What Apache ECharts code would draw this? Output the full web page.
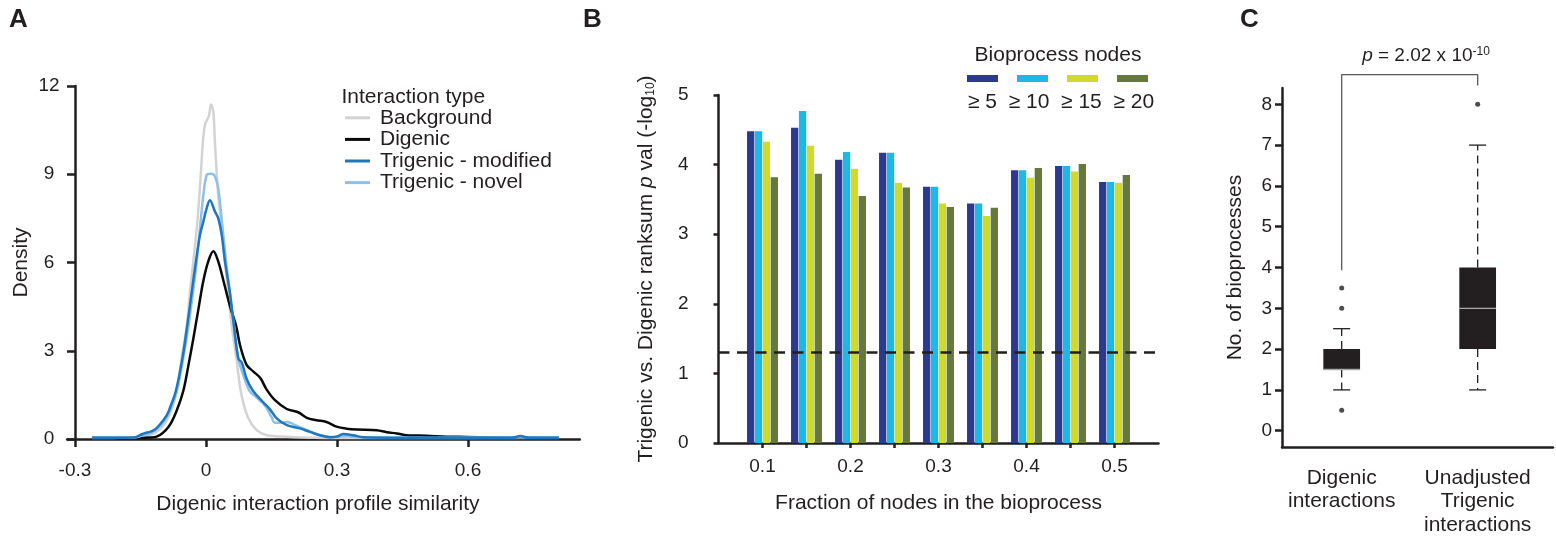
<!DOCTYPE html>
<html><head><meta charset="utf-8">
<script src="https://cdn.jsdelivr.net/npm/echarts@6/dist/echarts.min.js"></script>
<style>html,body{margin:0;padding:0;background:#fff}#c{width:1556px;height:541px}</style>
</head><body><div id="c"></div>
<script>
// ---------- Panel A : density curves ----------
const densityTicks = [0, 3, 6, 9, 12];
const simTicks = [-0.3, 0, 0.3, 0.6];
const seriesNamesA = ['Background', 'Digenic', 'Trigenic - modified', 'Trigenic - novel'];
const bgX = [-0.261,-0.20,-0.15,-0.113,-0.086,-0.067,-0.056,-0.044,-0.037,-0.029,-0.021,-0.015,-0.010,-0.006,-0.002,0.002,0.007,0.0115,0.0168,0.0206,0.028,0.036,0.0435,0.051,0.059,0.070,0.080,0.096,0.116,0.139,0.185,0.25,0.35,0.45,0.808];
const bgY = [0.03,0.04,0.08,0.24,0.74,1.63,2.74,3.85,4.95,6.04,7.17,8.29,9.44,10.29,10.71,10.83,11.0,11.37,11.13,10.05,8.29,7.17,6.04,4.95,3.85,2.70,1.60,0.74,0.30,0.13,0.08,0.04,0.03,0.03,0.03];
const digX = [-0.261,-0.17,-0.13,-0.113,-0.086,-0.067,-0.052,-0.040,-0.029,-0.0176,-0.006,0.0053,0.0168,0.028,0.040,0.055,0.069,0.078,0.093,0.108,0.124,0.139,0.158,0.185,0.211,0.231,0.253,0.276,0.299,0.322,0.345,0.391,0.414,0.437,0.46,0.505,0.551,0.597,0.70,0.808];
const digY = [0.03,0.03,0.05,0.08,0.41,0.97,1.63,2.52,3.41,4.39,5.38,6.04,6.38,6.04,5.38,4.51,3.85,3.19,2.52,2.30,2.08,1.68,1.32,1.02,0.91,0.72,0.64,0.58,0.42,0.35,0.32,0.30,0.23,0.19,0.13,0.11,0.08,0.07,0.04,0.03];
const modX = [-0.261,-0.165,-0.15,-0.14,-0.128,-0.117,-0.105,-0.09,-0.082,-0.069,-0.054,-0.043,-0.033,-0.025,-0.0137,-0.006,0.0015,0.009,0.0206,0.028,0.036,0.0435,0.055,0.064,0.074,0.082,0.093,0.108,0.131,0.147,0.162,0.185,0.215,0.238,0.261,0.284,0.300,0.314,0.337,0.36,0.50,0.70,0.72,0.74,0.808];
const modY = [0.04,0.05,0.14,0.2,0.24,0.32,0.5,0.8,1.08,1.63,2.74,3.85,4.95,5.83,6.94,7.39,7.84,8.12,7.73,7.51,6.94,6.04,4.95,3.85,2.74,2.6,2.05,1.63,1.25,1.0,0.7,0.47,0.36,0.24,0.13,0.06,0.08,0.17,0.13,0.06,0.04,0.04,0.1,0.04,0.04];
const novX = [-0.261,-0.165,-0.15,-0.121,-0.09,-0.067,-0.052,-0.040,-0.030,-0.021,-0.0137,-0.006,0.0015,0.010,0.019,0.028,0.038,0.046,0.055,0.064,0.074,0.085,0.1,0.116,0.128,0.139,0.150,0.158,0.169,0.185,0.208,0.231,0.261,0.284,0.318,0.36,0.50,0.72,0.808];
const novY = [0.04,0.05,0.1,0.24,0.74,1.63,2.74,3.85,4.95,6.04,7.17,8.29,8.97,9.02,8.97,8.52,7.17,6.04,4.95,3.85,2.74,2.19,1.63,1.41,1.25,1.05,0.75,0.55,0.55,0.58,0.45,0.30,0.13,0.07,0.1,0.05,0.04,0.06,0.04];

// ---------- Panel B : bars ----------
const fractionCats = ['0.05','0.1','0.15','0.2','0.25','0.3','0.35','0.4','0.45','0.5','0.55'];
const nodeNames = ['\u2265 5', '\u2265 10', '\u2265 15', '\u2265 20'];
const nodes5  = [null, 4.48, 4.53, 4.07, 4.17, 3.68, 3.44, 3.92, 3.98, 3.75, null];
const nodes10 = [null, 4.48, 4.77, 4.18, 4.17, 3.68, 3.44, 3.92, 3.98, 3.75, null];
const nodes15 = [null, 4.33, 4.27, 3.94, 3.74, 3.44, 3.26, 3.81, 3.90, 3.74, null];
const nodes20 = [null, 3.82, 3.87, 3.55, 3.67, 3.39, 3.38, 3.95, 4.01, 3.85, null];
const pThreshold = 1.3;

// ---------- Panel C : boxplots ----------
const boxCats = ['Digenic\ninteractions', 'Unadjusted\nTrigenic\ninteractions'];
const boxStats = [[1, 1.5, 1.5, 2, 2.5], [1, 2, 3, 4, 7]]; // [low whisker, Q1, median, Q3, high whisker]
const outliers = [[1, 3.5], [1, 3], [1, 0.5], [2, 8]];
const bracketPts = [[1, 3.93], [1, 8.73], [2, 8.73], [2, 8.46]];
const bioTicks = [0, 1, 2, 3, 4, 5, 6, 7, 8];

const FONT = '"Liberation Sans", Arial, Helvetica, sans-serif';
const INK = '#231f20';
const zip = (xs, ys) => xs.map((x, i) => [x, ys[i]]);

const colorsA = ['#d3d3d3', '#0a0a0a', '#1f78be', '#8ec0e8'];
const colorsB = ['#2b3a8f', '#1cb8e8', '#d0db27', '#65793a'];

function lineSeries(name, xs, ys, color, z) {
  return { type: 'line', name, xAxisIndex: 0, yAxisIndex: 0, data: zip(xs, ys),
    symbol: 'none', smooth: 0.35, z, lineStyle: { color, width: 2.5 }, itemStyle: { color } };
}
function barSeries(i, data) {
  const s = { type: 'bar', name: nodeNames[i], xAxisIndex: 1, yAxisIndex: 1, data,
    barWidth: 7.3, barGap: '8%', itemStyle: { color: colorsB[i] } };
  if (i === 0) s.markLine = { silent: true, symbol: 'none', label: { show: false },
    lineStyle: { color: INK, width: 2.5, type: [11, 7.5] }, data: [{ yAxis: pThreshold }] };
  return s;
}

const chart = echarts.init(document.getElementById('c'), null, { renderer: 'canvas' });
const axisLineStyle = { color: INK, width: 2.5 };
const tickLabel = { color: INK, fontFamily: FONT, fontSize: 19 };
const nameStyle = { color: INK, fontFamily: FONT, fontSize: 21 };

chart.setOption({
  animation: false,
  textStyle: { fontFamily: FONT },
  title: [
    { text: 'A', left: 9, top: 7, padding: 0, textStyle: { fontFamily: FONT, fontSize: 26, fontWeight: 'bold', color: INK } },
    { text: 'B', left: 583, top: 7, padding: 0, textStyle: { fontFamily: FONT, fontSize: 26, fontWeight: 'bold', color: INK } },
    { text: 'C', left: 1240, top: 7, padding: 0, textStyle: { fontFamily: FONT, fontSize: 26, fontWeight: 'bold', color: INK } },
    { text: 'Interaction type', left: 341.5, top: 86.5, padding: 0, textStyle: { ...nameStyle, fontWeight: 'normal' } },
    { text: 'Bioprocess nodes', left: 1058, top: 44.5, textAlign: 'center', padding: 0, textStyle: { ...nameStyle, fontWeight: 'normal' } },
    { text: '{i|p} = 2.02 x 10{sup|-10}', left: 1426, top: 46, textAlign: 'center', padding: 0,
      textStyle: { fontFamily: FONT, fontSize: 19, fontWeight: 'normal', color: INK,
        rich: { i: { fontFamily: FONT, fontSize: 19, fontStyle: 'italic', color: INK },
                sup: { fontFamily: FONT, fontSize: 12, verticalAlign: 'top', color: INK } } } }
  ],
  legend: [
    { data: seriesNamesA, orient: 'vertical', left: 345, top: 107, padding: 0, itemWidth: 25, itemHeight: 3, itemGap: 0,
      icon: 'rect', selectedMode: false, textStyle: { ...nameStyle, lineHeight: 21.6, padding: [0, 0, 0, 5] } },
    { data: nodeNames, orient: 'horizontal', left: 967, top: 75, padding: 0, itemWidth: 31, itemHeight: 7, itemGap: 19,
      icon: 'rect', selectedMode: false, formatter: () => '' },
    { data: nodeNames, orient: 'horizontal', left: 959.5, top: 92, padding: 0, itemWidth: 0, itemHeight: 0, itemGap: 9,
      icon: 'rect', selectedMode: false, formatter: (n) => '{c|' + n + '}',
      textStyle: { ...nameStyle, rich: { c: { width: 36, align: 'center', fontFamily: FONT, fontSize: 21, color: INK } } } }
  ],
  grid: [
    { left: 67.1, top: 86, width: 512.7, height: 353 },
    { left: 718.5, top: 95, width: 440, height: 348 },
    { left: 1282, top: 88, width: 271, height: 359 }
  ],
  xAxis: [
    { type: 'value', gridIndex: 0, min: -0.318, max: 0.856,
      name: 'Digenic interaction profile similarity', nameLocation: 'middle', nameGap: 55,
      nameTextStyle: { ...nameStyle, padding: [0, 11, 0, 0] },
      axisLine: { onZero: false, lineStyle: axisLineStyle },
      axisTick: { customValues: simTicks, length: 8, lineStyle: axisLineStyle },
      axisLabel: { customValues: simTicks, margin: 22, ...tickLabel },
      splitLine: { show: false } },
    { type: 'category', gridIndex: 1, data: fractionCats, boundaryGap: false,
      name: 'Fraction of nodes in the bioprocess', nameLocation: 'middle', nameGap: 49.5, nameTextStyle: nameStyle,
      axisLine: { lineStyle: axisLineStyle },
      axisTick: { interval: (i) => i > 0 && i < fractionCats.length - 1, length: 5, lineStyle: axisLineStyle },
      axisLabel: { interval: (i) => i % 2 === 1, margin: 14.5, ...tickLabel },
      splitLine: { show: false } },
    { type: 'value', gridIndex: 2, min: 0.561, max: 2.554,
      axisLine: { onZero: false, lineStyle: axisLineStyle },
      axisTick: { show: false },
      axisLabel: { customValues: [1, 2], formatter: (v) => boxCats[Math.round(v) - 1], margin: 19,
        color: INK, fontFamily: FONT, fontSize: 21, lineHeight: 23.5 },
      splitLine: { show: false } }
  ],
  yAxis: [
    { type: 'value', gridIndex: 0, min: 0, max: 12, interval: 3, offset: -7.9,
      name: 'Density', nameLocation: 'middle', nameGap: 43, nameTextStyle: nameStyle,
      axisLine: { show: true, onZero: false, lineStyle: axisLineStyle },
      axisTick: { show: true, length: 8, lineStyle: axisLineStyle },
      axisLabel: { align: 'center', margin: 26, ...tickLabel },
      splitLine: { show: false } },
    { type: 'value', gridIndex: 1, min: 0, max: 5, interval: 1,
      name: 'Trigenic vs. Digenic ranksum {i|p} val (-log{sub|10})', nameLocation: 'middle', nameGap: 62,
      nameTextStyle: { ...nameStyle, rich: {
        i: { fontFamily: FONT, fontSize: 21, fontStyle: 'italic', color: INK },
        sub: { fontFamily: FONT, fontSize: 12, verticalAlign: 'bottom', color: INK } } },
      axisLine: { show: true, lineStyle: axisLineStyle },
      axisTick: { show: true, length: 5, lineStyle: axisLineStyle },
      axisLabel: { margin: 30, ...tickLabel },
      splitLine: { show: false } },
    { type: 'value', gridIndex: 2, min: -0.4, max: 8.4,
      name: 'No. of bioprocesses', nameLocation: 'middle', nameGap: 36.5, nameTextStyle: nameStyle,
      axisLine: { show: true, onZero: false, lineStyle: axisLineStyle },
      axisTick: { show: true, customValues: bioTicks, length: 7, lineStyle: axisLineStyle },
      axisLabel: { customValues: bioTicks, margin: 10, ...tickLabel },
      splitLine: { show: false } }
  ],
  series: [
    lineSeries(seriesNamesA[0], bgX, bgY, colorsA[0], 2),
    lineSeries(seriesNamesA[1], digX, digY, colorsA[1], 3),
    lineSeries(seriesNamesA[3], novX, novY, colorsA[3], 4),
    lineSeries(seriesNamesA[2], modX, modY, colorsA[2], 5),
    barSeries(0, nodes5), barSeries(1, nodes10), barSeries(2, nodes15), barSeries(3, nodes20),
    { type: 'custom', name: 'box', xAxisIndex: 2, yAxisIndex: 2,
      data: boxStats.map((s, i) => [i + 1, ...s]),
      encode: { x: 0, y: [1, 2, 3, 4, 5] },
      renderItem: function (params, api) {
        const x = api.value(0);
        const lo = api.coord([x, api.value(1)]);
        const q1 = api.coord([x, api.value(2)]);
        const md = api.coord([x, api.value(3)]);
        const q3 = api.coord([x, api.value(4)]);
        const hi = api.coord([x, api.value(5)]);
        const bw = api.size([0.27, 0])[0];
        const cw = api.size([0.125, 0])[0];
        const cx = lo[0];
        const ws = { stroke: INK, lineWidth: 1.3, lineDash: [8, 5] };
        const cs = { stroke: INK, lineWidth: 1.3 };
        return { type: 'group', children: [
          { type: 'line', shape: { x1: cx, y1: q3[1], x2: cx, y2: hi[1] }, style: ws },
          { type: 'line', shape: { x1: cx, y1: q1[1], x2: cx, y2: lo[1] }, style: ws },
          { type: 'line', shape: { x1: cx - cw / 2, y1: hi[1], x2: cx + cw / 2, y2: hi[1] }, style: cs },
          { type: 'line', shape: { x1: cx - cw / 2, y1: lo[1], x2: cx + cw / 2, y2: lo[1] }, style: cs },
          { type: 'rect', shape: { x: cx - bw / 2, y: q3[1], width: bw, height: q1[1] - q3[1] }, style: { fill: INK } },
          { type: 'line', shape: { x1: cx - bw / 2, y1: md[1], x2: cx + bw / 2, y2: md[1] }, style: { stroke: '#a9a9a9', lineWidth: 1.3 } }
        ] };
      } },
    { type: 'scatter', name: 'outliers', xAxisIndex: 2, yAxisIndex: 2, data: outliers,
      symbol: 'circle', symbolSize: 5, itemStyle: { color: INK } },
    { type: 'line', name: 'bracket', xAxisIndex: 2, yAxisIndex: 2, data: bracketPts, clip: false,
      symbol: 'none', lineStyle: { color: '#58595b', width: 1.3 }, silent: true }
  ]
});
</script>
</body></html>
